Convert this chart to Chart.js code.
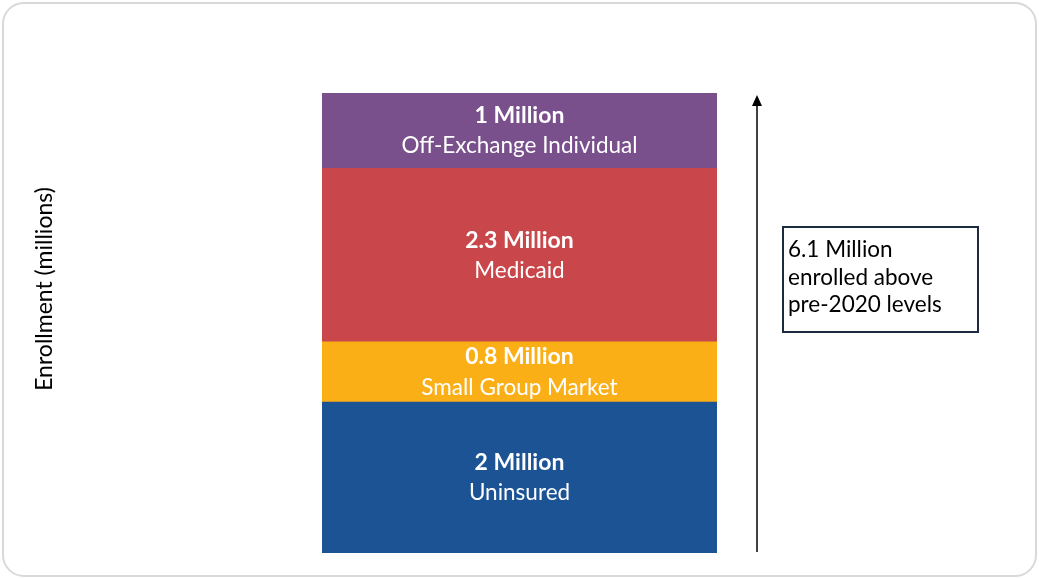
<!DOCTYPE html>
<html>
<head>
<meta charset="utf-8">
<script src="https://cdn.jsdelivr.net/npm/chart.js@4"></script>
<style>
    html, body { margin: 0; padding: 0; background: #fff; }
    #wrap { position: relative; width: 1039px; height: 579px; }
    #frame {
        position: absolute; left: 2px; top: 2px; width: 1031px; height: 571px;
        border: 2px solid #d9d9d9; border-radius: 22px;
    }
    canvas { position: absolute; left: 0; top: 0; }
</style>
</head>
<body>
<div id="wrap">
    <div id="frame"></div>
    <canvas id="chart" width="1039" height="579"></canvas>
</div>
<script>
// Enrollment gains above pre-2020 levels (millions)
const categories = ['Enrollment'];
const segmentNames = ['Uninsured', 'Small Group Market', 'Medicaid', 'Off-Exchange Individual'];
const segmentValues = [2, 0.8, 2.3, 1];
const segmentColors = ['#1b5394', '#fbaf17', '#c9474a', '#79508c'];
const totalLabel = ['6.1 Million', 'enrolled above', 'pre-2020 levels'];
const axisTitle = 'Enrollment (millions)';

const FONT = 'Lato, "Open Sans", sans-serif';

/**
 * Labels inside each stacked segment
 */
const segmentLabels = {
    id: 'segmentLabels',
    afterDatasetsDraw(chart) {
        const ctx = chart.ctx;
        ctx.save();
        ctx.fillStyle = '#ffffff';
        ctx.textAlign = 'center';
        ctx.textBaseline = 'middle';
        chart.data.datasets.forEach((ds, i) => {
            const bar = chart.getDatasetMeta(i).data[0];
            const cy = (bar.y + bar.base) / 2;
            ctx.font = 'bold 23px ' + FONT;
            ctx.fillText(ds.data[0] + ' Million', bar.x, cy - 15);
            ctx.font = '22.5px ' + FONT;
            ctx.fillText(ds.label, bar.x, cy + 15.5);
        });
        ctx.restore();
    }
};

/**
 * Axis title, total arrow and callout box
 */
const annotations = {
    id: 'annotations',
    afterDraw(chart) {
        const ctx = chart.ctx;
        const y = chart.scales.y;
        const area = chart.chartArea;
        const total = segmentValues.reduce((a, b) => a + b, 0);

        // axis title
        ctx.save();
        ctx.translate(45, (area.top + area.bottom) / 2 - 34);
        ctx.rotate(-Math.PI / 2);
        ctx.fillStyle = '#000';
        ctx.font = '23px ' + FONT;
        ctx.textAlign = 'center';
        ctx.textBaseline = 'middle';
        ctx.fillText(axisTitle, 0, 0);
        ctx.restore();

        // arrow from 0 to total
        const ax = area.right + 40;
        const yBottom = y.getPixelForValue(0) - 1;
        const yTop = y.getPixelForValue(total) + 2;
        ctx.save();
        ctx.strokeStyle = '#000';
        ctx.lineWidth = 1.5;
        ctx.beginPath();
        ctx.moveTo(ax, yBottom);
        ctx.lineTo(ax, yTop + 10);
        ctx.stroke();
        ctx.fillStyle = '#000';
        ctx.beginPath();
        ctx.moveTo(ax, yTop);
        ctx.lineTo(ax - 5, yTop + 11);
        ctx.lineTo(ax + 5, yTop + 11);
        ctx.closePath();
        ctx.fill();
        ctx.restore();

        // callout box
        const bx = 783, by = 227, bw = 195, bh = 105;
        ctx.save();
        ctx.strokeStyle = '#1c2b3d';
        ctx.lineWidth = 2;
        ctx.strokeRect(bx, by, bw, bh);
        ctx.fillStyle = '#000';
        ctx.font = '22.5px ' + FONT;
        ctx.textAlign = 'left';
        ctx.textBaseline = 'middle';
        totalLabel.forEach((line, i) => {
            ctx.fillText(line, bx + 5, by + 23 + i * 27.5);
        });
        ctx.restore();
    }
};

const datasets = segmentNames.map((name, i) => ({
    label: name,
    data: [segmentValues[i]],
    backgroundColor: segmentColors[i],
    borderWidth: 0,
    barPercentage: 1,
    categoryPercentage: 1
}));

new Chart(document.getElementById('chart'), {
    type: 'bar',
    data: { labels: categories, datasets: datasets },
    options: {
        responsive: false,
        animation: false,
        layout: { padding: { left: 322, right: 322, top: 93, bottom: 26 } },
        plugins: { legend: { display: false }, tooltip: { enabled: false } },
        scales: {
            x: { stacked: true, display: false },
            y: { stacked: true, display: false, min: 0, max: 6.1 }
        }
    },
    plugins: [segmentLabels, annotations]
});
</script>
</body>
</html>
